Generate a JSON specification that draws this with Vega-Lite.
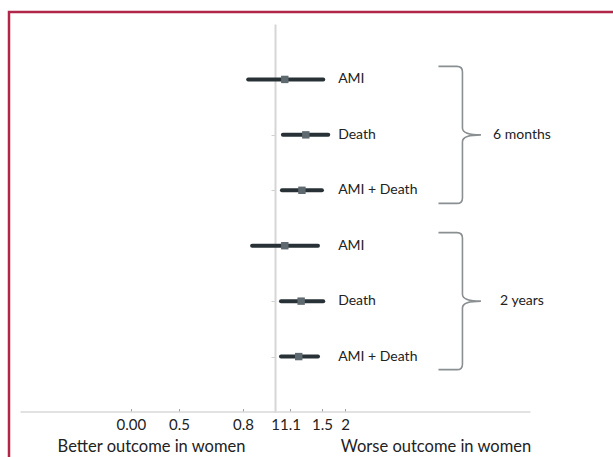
{
  "$schema": "https://vega.github.io/schema/vega-lite/v6.json",
  "width": 615,
  "height": 450,
  "autosize": {"type": "none"},
  "padding": {"left": 9, "top": 12, "right": -11, "bottom": -5},
  "background": "white",
  "config": {
    "view": {"stroke": "#b3264c", "strokeWidth": 2.5},
    "font": "Lato",
    "text": {"font": "Lato"}
  },
  "datasets": {
    "rows": [
      {"period": "6 months", "outcome": "AMI", "row": "6m AMI", "lo": 0.77, "hr": 1.10, "hi": 1.60},
      {"period": "6 months", "outcome": "Death", "row": "6m Death", "lo": 1.08, "hr": 1.35, "hi": 1.68},
      {"period": "6 months", "outcome": "AMI + Death", "row": "6m AMI + Death", "lo": 1.07, "hr": 1.30, "hi": 1.58},
      {"period": "2 years", "outcome": "AMI", "row": "2y AMI", "lo": 0.80, "hr": 1.10, "hi": 1.52},
      {"period": "2 years", "outcome": "Death", "row": "2y Death", "lo": 1.06, "hr": 1.29, "hi": 1.60},
      {"period": "2 years", "outcome": "AMI + Death", "row": "2y AMI + Death", "lo": 1.06, "hr": 1.26, "hi": 1.52}
    ],
    "groups": [
      {"period": "6 months", "row": "6m Death"},
      {"period": "2 years", "row": "2y Death"}
    ]
  },
  "layer": [
    {
      "layer": [
        {
          "data": {"name": "rows"},
          "mark": {"type": "rule", "strokeWidth": 4, "strokeCap": "round", "color": "#283236"},
          "encoding": {
            "y": {
              "field": "row", "type": "nominal",
              "scale": {"type": "point", "domain": ["6m AMI", "6m Death", "6m AMI + Death", "2y AMI", "2y Death", "2y AMI + Death"], "range": [12, 400], "padding": 1.03},
              "axis": {"orient": "left", "offset": -266, "labels": false, "title": null, "domainColor": "#d6d6d6", "domainWidth": 2, "tickColor": "#d0d0d0", "tickSize": 4, "grid": false, "zindex": 0}
            },
            "x": {
              "field": "lo", "type": "quantitative",
              "scale": {"type": "log", "domain": [0.08333, 12], "range": [11, 521], "nice": false, "zero": false},
              "axis": {
                "orient": "bottom", "offset": -50.5,
                "values": [0.2456, 0.392, 0.732, 1, 1.157, 1.581, 1.979],
                "labelExpr": "datum.value < 0.3 ? '0.00' : datum.value < 0.5 ? '0.5' : datum.value < 0.9 ? '0.8' : datum.value < 1.08 ? '1' : datum.value < 1.3 ? '1.1' : datum.value < 1.8 ? '1.5' : '2'",
                "domainColor": "#d9d9d9", "domainWidth": 1.5,
                "tickColor": "#a0a0a0", "tickSize": -3,
                "labelFont": "Lato", "labelFontSize": 15, "labelColor": "#222222", "labelPadding": 9,
                "labelFlush": false, "labelOverlap": false, "grid": false,
                "title": "Better outcome in women", "titleX": 142, "titleY": 35, "titleBaseline": "middle", "titleAlign": "center",
                "titleFont": "Lato", "titleFontSize": 16.5, "titleFontWeight": "normal", "titleColor": "#222222",
                "zindex": 0
              }
            },
            "x2": {"field": "hi"}
          }
        },
        {
          "data": {"name": "rows"},
          "mark": {"type": "point", "shape": "square", "filled": true, "size": 55, "opacity": 1, "color": "#5e6a70"},
          "encoding": {
            "y": {"field": "row", "type": "nominal"},
            "x": {"field": "hr", "type": "quantitative"}
          }
        },
        {
          "data": {"name": "rows"},
          "mark": {"type": "text", "align": "left", "baseline": "middle", "font": "Lato", "fontSize": 14, "color": "#222222"},
          "encoding": {
            "y": {"field": "row", "type": "nominal"},
            "x": {"datum": 1.85, "type": "quantitative"},
            "text": {"field": "outcome"}
          }
        },
        {
          "data": {"name": "groups"},
          "mark": {
            "type": "point",
            "shape": "M -0.32 -1 L -0.05 -1 Q 0.03 -1 0.03 -0.92 L 0.03 -0.1 Q 0.03 0 0.3 0 Q 0.03 0 0.03 0.1 L 0.03 0.92 Q 0.03 1 -0.05 1 L -0.32 1",
            "filled": false, "size": 18769, "opacity": 1, "stroke": "#8a8f92", "strokeWidth": 1.6
          },
          "encoding": {
            "y": {"field": "row", "type": "nominal"},
            "x": {"datum": 6.09, "type": "quantitative"}
          }
        }
      ]
    },
    {
      "data": {"name": "groups"},
      "mark": {"type": "text", "align": "center", "baseline": "middle", "font": "Lato", "fontSize": 14, "color": "#222222"},
      "encoding": {
        "y": {"field": "row", "type": "nominal"},
        "x": {
          "datum": 11.1, "type": "quantitative",
          "scale": {"type": "log", "domain": [0.08333, 12], "range": [11, 521], "nice": false, "zero": false},
          "axis": {
            "orient": "bottom", "offset": -50.5, "labels": false, "ticks": false, "domain": false, "grid": false,
            "title": "Worse outcome in women", "titleX": 426.5, "titleY": 35, "titleBaseline": "middle", "titleAlign": "center",
            "titleFont": "Lato", "titleFontSize": 16.5, "titleFontWeight": "normal", "titleColor": "#222222"
          }
        },
        "text": {"field": "period"}
      }
    }
  ],
  "resolve": {"scale": {"x": "independent"}, "axis": {"x": "independent"}}
}
